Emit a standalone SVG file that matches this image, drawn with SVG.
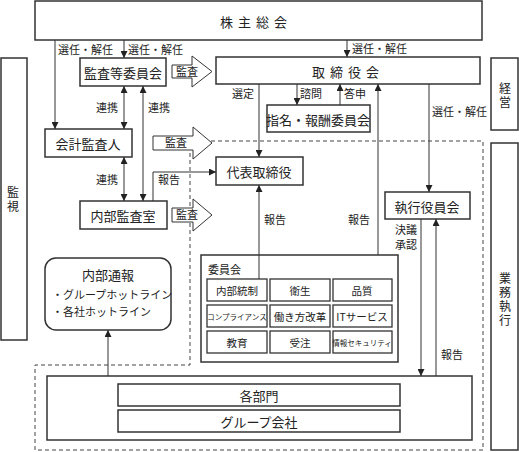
<svg xmlns="http://www.w3.org/2000/svg" width="519" height="452" viewBox="0 0 519 452">
<style>
text{font-family:"Noto Sans CJK JP","Noto Sans",sans-serif;fill:#222}
.box{fill:#fff;stroke:#333;stroke-width:1.5}
.cell{fill:#fff;stroke:#333;stroke-width:1.3}
.t13{font-size:13px;text-anchor:middle;dominant-baseline:central}
.v{font-size:12px;text-anchor:middle;writing-mode:vertical-rl;letter-spacing:2px}
.c{font-size:10.5px;text-anchor:middle;dominant-baseline:central}
.cs{font-size:7.5px;text-anchor:middle;dominant-baseline:central}
.t11{font-size:11px}
.ln{fill:none;stroke:#333;stroke-width:1}
.dash{fill:none;stroke:#444;stroke-width:1;stroke-dasharray:4 3}
.blk{fill:#fff;stroke:#333;stroke-width:1}
</style>
<defs>
<marker id="ah" viewBox="0 0 8 8" refX="8" refY="4" markerWidth="7" markerHeight="7" orient="auto-start-reverse" markerUnits="userSpaceOnUse">
<path d="M0,0 L8,4 L0,8 z" fill="#222"/>
</marker>
</defs>

<path class="dash" d="M190,141 H483 V450 H35 V365 H190 Z"/>

<g id="shareholders"><rect class="box" x="35" y="1" width="447" height="39"/><text class="t13" x="256" y="21" letter-spacing="5">株主総会</text></g>
<g id="kanshi"><rect class="box" x="1" y="58" width="26" height="282"/><text class="v" x="13" y="200">監視</text></g>
<g id="keiei"><rect class="box" x="491" y="58" width="27" height="72"/><text class="v" x="505" y="96">経営</text></g>
<g id="gyomu"><rect class="box" x="491" y="143" width="27" height="307"/><text class="v" x="505" y="300">業務執行</text></g>

<g id="audit-committee"><rect class="box" x="80" y="58" width="86" height="28"/><text class="t13" x="123" y="72">監査等委員会</text></g>
<g id="board"><rect class="box" x="216" y="57" width="264" height="27"/><text class="t13" x="348" y="71" letter-spacing="5">取締役会</text></g>
<g id="nomination"><rect class="box" x="267" y="105" width="103" height="27"/><text class="t13" x="318" y="119">指名・報酬委員会</text></g>
<g id="accountant"><rect class="box" x="45" y="129" width="87" height="28"/><text class="t13" x="88" y="143">会計監査人</text></g>
<g id="internal-audit"><rect class="box" x="80" y="201" width="87" height="28"/><text class="t13" x="123" y="215">内部監査室</text></g>
<g id="representative"><rect class="box" x="216" y="157" width="87" height="28"/><text class="t13" x="259" y="171">代表取締役</text></g>
<g id="executive"><rect class="box" x="385" y="192" width="85" height="27"/><text class="t13" x="427" y="206">執行役員会</text></g>

<g id="whistle"><rect class="box" x="45" y="258" width="126" height="72" rx="11"/><text class="t13" x="108" y="274">内部通報</text><text class="t11" x="52" y="299">・グループホットライン</text><text class="t11" x="52" y="316">・各社ホットライン</text></g>

<g id="committees"><rect class="box" x="201" y="255" width="197" height="107"/><text class="t11" x="208" y="274">委員会</text>
<rect class="cell" x="207" y="279" width="60" height="22"/><text class="c" x="237" y="290">内部統制</text>
<rect class="cell" x="270" y="279" width="60" height="22"/><text class="c" x="300" y="290">衛生</text>
<rect class="cell" x="333" y="279" width="59" height="22"/><text class="c" x="362" y="290">品質</text>
<rect class="cell" x="207" y="305" width="60" height="22"/><text class="cs" x="237" y="316">コンプライアンス</text>
<rect class="cell" x="270" y="305" width="60" height="22"/><text class="c" x="300" y="316">働き方改革</text>
<rect class="cell" x="333" y="305" width="59" height="22"/><text class="c" x="362" y="316">ITサービス</text>
<rect class="cell" x="207" y="331" width="60" height="22"/><text class="c" x="237" y="342">教育</text>
<rect class="cell" x="270" y="331" width="60" height="22"/><text class="c" x="300" y="342">受注</text>
<rect class="cell" x="333" y="331" width="59" height="22"/><text class="cs" x="362" y="342">情報セキュリティ</text>
</g>

<g id="operations"><rect class="box" x="47" y="376" width="425" height="64"/>
<rect class="box" x="118" y="384" width="282" height="22"/><text class="t13" x="259" y="395">各部門</text>
<rect class="box" x="118" y="410" width="282" height="22"/><text class="t13" x="259" y="421">グループ会社</text></g>

<g id="audit-arrows">
<path class="blk" d="M172,65 H192 V56 L212,71.5 L192,87 V78 H172 Z"/><text class="t11" x="176" y="76">監査</text>
<path class="blk" d="M153,136 H193 V127 L212,143 L193,159 V150 H153 Z"/><text class="t11" x="165" y="147">監査</text>
<path class="blk" d="M172,208 H193 V199 L212,215 L193,231 V222 H172 Z"/><text class="t11" x="176" y="219">監査</text>
</g>

<g id="connectors">
<path class="ln" d="M55,40 V129" marker-end="url(#ah)"/>
<path class="ln" d="M124,40 V58" marker-end="url(#ah)"/>
<path class="ln" d="M347,40 V57" marker-end="url(#ah)"/>
<path class="ln" d="M124,86 V129" marker-start="url(#ah)" marker-end="url(#ah)"/>
<path class="ln" d="M124,157 V201" marker-start="url(#ah)" marker-end="url(#ah)"/>
<path class="ln" d="M143,86 V201" marker-start="url(#ah)" marker-end="url(#ah)"/>
<path class="ln" d="M153,201 V172 H216" marker-end="url(#ah)"/>
<path class="ln" d="M259,84 V157" marker-end="url(#ah)"/>
<path class="ln" d="M297,84 V105" marker-end="url(#ah)"/>
<path class="ln" d="M340,105 V84" marker-end="url(#ah)"/>
<path class="ln" d="M378,255 V84" marker-end="url(#ah)"/>
<path class="ln" d="M429,84 V192" marker-end="url(#ah)"/>
<path class="ln" d="M259,279 V185" marker-end="url(#ah)"/>
<path class="ln" d="M421,219 V376" marker-end="url(#ah)"/>
<path class="ln" d="M436,376 V219" marker-end="url(#ah)"/>
<path class="ln" d="M108,376 V330" marker-end="url(#ah)"/>
<text class="t11" x="58" y="54">選任・解任</text>
<text class="t11" x="128" y="54">選任・解任</text>
<text class="t11" x="352" y="53">選任・解任</text>
<text class="t11" x="232" y="98">選定</text>
<text class="t11" x="300" y="98">諮問</text>
<text class="t11" x="344" y="98">答申</text>
<text class="t11" x="96" y="112">連携</text>
<text class="t11" x="148" y="112">連携</text>
<text class="t11" x="96" y="184">連携</text>
<text class="t11" x="158" y="184">報告</text>
<text class="t11" x="264" y="224">報告</text>
<text class="t11" x="348" y="224">報告</text>
<text class="t11" x="432" y="116">選任・解任</text>
<text class="t11" x="395" y="234">決議</text>
<text class="t11" x="395" y="249">承認</text>
<text class="t11" x="441" y="359">報告</text>
</g>
</svg>
